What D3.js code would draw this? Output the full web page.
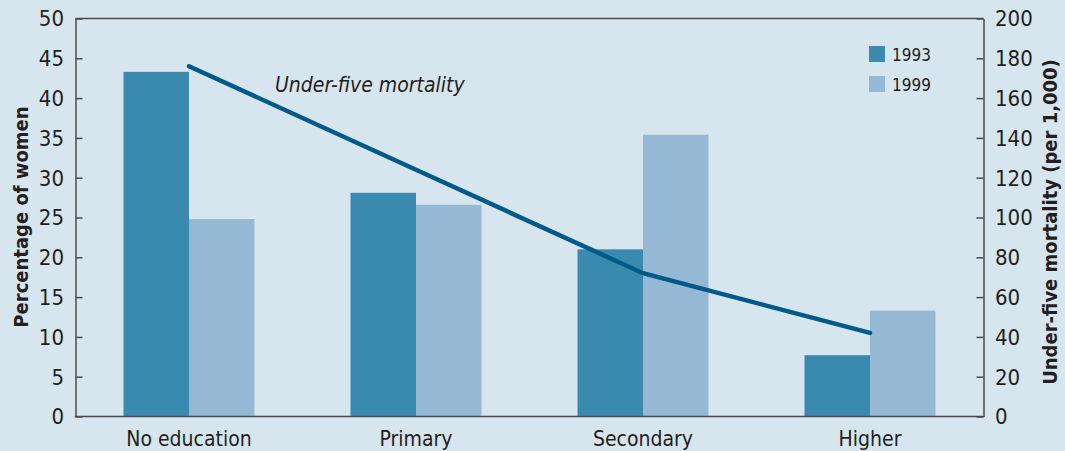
<!DOCTYPE html>
<html>
<head>
<meta charset="utf-8">
<script src="https://cdn.jsdelivr.net/npm/d3@7"></script>
<style>
  body { margin: 0; background: #d7e5ef; }
  text { font-family: "Liberation Sans Narrow", "DejaVu Sans Condensed", sans-serif; fill: #231f20; }
</style>
</head>
<body>
<div id="chart"></div>
<script>
let categories = ["No education", "Primary", "Secondary", "Higher"];
let years = ["1993", "1999"];
let women1993 = [43.3, 28.1, 21.0, 7.7];
let women1999 = [24.8, 26.6, 35.4, 13.3];
let mortality = [176, 124, 72, 42];
let leftTicks = [0, 5, 10, 15, 20, 25, 30, 35, 40, 45, 50];
let rightTicks = [0, 20, 40, 60, 80, 100, 120, 140, 160, 180, 200];

let width = 1065, height = 451;
let plotLeft = 75.5, plotRight = 983.5, plotTop = 18.5, plotBottom = 416.5;

let svg = d3.select("#chart")
    .append("svg")
    .attr("width", width)
    .attr("height", height)
    .style("background", "#d7e5ef");

let xScale = d3.scaleBand()
    .domain(categories)
    .range([plotLeft, plotRight])
    .paddingInner(0.423)
    .paddingOuter(0.2115);

let xSub = d3.scaleBand()
    .domain(years)
    .range([0, xScale.bandwidth()]);

let yLeft = d3.scaleLinear().domain([0, 50]).range([plotBottom, plotTop]);
let yRight = d3.scaleLinear().domain([0, 200]).range([plotBottom, plotTop]);

let colors = { "1993": "#3a8ab0", "1999": "#95b9d4" };

let rows = categories.map((c, i) => ({ cat: c, values: [
    { year: "1993", v: women1993[i] },
    { year: "1999", v: women1999[i] }
]}));

// bars
let groups = svg.selectAll(".group")
    .data(rows)
    .enter()
    .append("g")
    .attr("transform", d => "translate(" + xScale(d.cat) + ",0)");

groups.selectAll("rect")
    .data(d => d.values)
    .enter()
    .append("rect")
    .attr("x", d => xSub(d.year))
    .attr("y", d => yLeft(d.v))
    .attr("width", xSub.bandwidth())
    .attr("height", d => yLeft(0) - yLeft(d.v))
    .style("fill", d => colors[d.year]);

// frame top line
svg.append("line")
    .attr("x1", plotLeft).attr("x2", plotRight)
    .attr("y1", plotTop).attr("y2", plotTop)
    .style("stroke", "#4a4a4a").style("stroke-width", 1.5);

// axes
let axisL = svg.append("g")
    .attr("transform", "translate(" + plotLeft + ",0)")
    .call(d3.axisRight(yLeft).tickValues(leftTicks).tickSize(7).tickSizeOuter(0).tickFormat(""));

let axisR = svg.append("g")
    .attr("transform", "translate(" + plotRight + ",0)")
    .call(d3.axisLeft(yRight).tickValues(rightTicks).tickSize(7).tickSizeOuter(0).tickFormat(""));

let axisB = svg.append("g")
    .attr("transform", "translate(0," + plotBottom + ")")
    .call(d3.axisBottom(xScale).tickSize(0).tickSizeOuter(0));

[axisL, axisR, axisB].forEach(a => {
    a.selectAll("path, line").style("stroke", "#4a4a4a").style("stroke-width", 1.5);
});

axisB.select(".domain").attr("d", "M" + (plotLeft - 0.75) + ",0H" + (plotRight + 0.75));
axisB.selectAll("text")
    .attr("dy", "1.25em")
    .style("font-size", "21px")
    .style("font-family", "'Liberation Sans Narrow', 'DejaVu Sans Condensed', sans-serif")
    .style("fill", "#231f20");

// tick labels
svg.selectAll(".ltick")
    .data(leftTicks)
    .enter()
    .append("text")
    .attr("x", 64)
    .attr("y", d => yLeft(d))
    .attr("dy", "0.36em")
    .attr("text-anchor", "end")
    .style("font-size", "22px")
    .text(d => d);

svg.selectAll(".rtick")
    .data(rightTicks)
    .enter()
    .append("text")
    .attr("x", 995)
    .attr("y", d => yRight(d))
    .attr("dy", "0.36em")
    .style("font-size", "22px")
    .text(d => d);

// axis titles
svg.append("text")
    .attr("transform", "translate(28,217) rotate(-90)")
    .attr("text-anchor", "middle")
    .style("font-size", "20px")
    .style("font-weight", "bold")
    .text("Percentage of women");

svg.append("text")
    .attr("transform", "translate(1057,222) rotate(-90)")
    .attr("text-anchor", "middle")
    .style("font-size", "20px")
    .style("font-weight", "bold")
    .text("Under-five mortality (per 1,000)");

// mortality line
let line = d3.line()
    .x((d, i) => xScale(categories[i]) + xScale.bandwidth() / 2)
    .y(d => yRight(d));

svg.append("path")
    .datum(mortality)
    .attr("d", line)
    .style("fill", "none")
    .style("stroke", "#005a87")
    .style("stroke-width", 4.5)
    .style("stroke-linecap", "round");

svg.append("text")
    .attr("x", 275)
    .attr("y", 92)
    .style("font-size", "21px")
    .style("font-style", "italic")
    .text("Under-five mortality");

// legend
let legend = svg.selectAll(".legend")
    .data(years)
    .enter()
    .append("g")
    .attr("transform", (d, i) => "translate(869," + (46 + i * 30) + ")");

legend.append("rect")
    .attr("width", 16)
    .attr("height", 16)
    .style("fill", d => colors[d]);

legend.append("text")
    .attr("x", 23)
    .attr("y", 15)
    .style("font-size", "17px")
    .text(d => d);
</script>
</body>
</html>
